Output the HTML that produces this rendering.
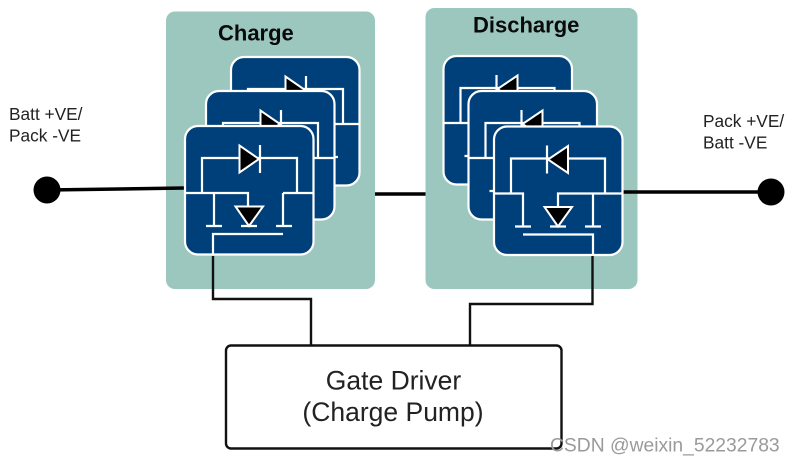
<!DOCTYPE html>
<html>
<head>
<meta charset="utf-8">
<style>
html,body{margin:0;padding:0;background:#fff;width:796px;height:464px;overflow:hidden}
svg{display:block}
text{font-family:"Liberation Sans",sans-serif}
</style>
</head>
<body>
<svg width="796" height="464" viewBox="0 0 796 464" xmlns="http://www.w3.org/2000/svg">
<defs>
<g id="c">
  <rect x="0" y="0" width="128.500" height="128.500" rx="13" fill="#00407a" stroke="#fff" stroke-width="2.200"/>
  <g fill="none" stroke="#fff" stroke-width="2.200">
    <path d="M17 67V32H112V67"/>
    <path d="M0 67H63V80M98 67H128.500M29 67V100M98 67V100"/>
    <path d="M21 100H37M56 100H72M91 100H107"/>
    <path d="M28 128.500V108H98"/>
    <path d="M75 19V47"/>
  </g>
  <path d="M54.500 19.500L54.500 46.500L74 33Z" fill="#000" stroke="#fff" stroke-width="2"/>
  <path d="M50.500 80.500H78L64 100Z" fill="#000" stroke="#fff" stroke-width="2"/>
</g>
<g id="d">
  <rect x="0" y="0" width="128.500" height="128.500" rx="13" fill="#00407a" stroke="#fff" stroke-width="2.200"/>
  <g fill="none" stroke="#fff" stroke-width="2.200">
    <path d="M17 67V32H111V67"/>
    <path d="M0 67H29V100M128.500 67H64V80M99 67V100"/>
    <path d="M21 100H37M56 100H72M91 100H107"/>
    <path d="M99 128.500V108H29"/>
    <path d="M53 19V47"/>
  </g>
  <path d="M74 19.500L74 46.500L54 33Z" fill="#000" stroke="#fff" stroke-width="2"/>
  <path d="M50.500 80.500H78L64 100Z" fill="#000" stroke="#fff" stroke-width="2"/>
</g>
</defs>

<rect x="166" y="11.500" width="209" height="277.500" rx="9" fill="#9cc7bf"/>
<rect x="425.500" y="8" width="212" height="281" rx="9" fill="#9cc7bf"/>

<path d="M47 190L185 188" stroke="#000" stroke-width="3.500" fill="none"/>
<path d="M375 194H425.500" stroke="#000" stroke-width="3.500" fill="none"/>
<path d="M622 192H771" stroke="#000" stroke-width="3.500" fill="none"/>
<circle cx="47" cy="190" r="13.500" fill="#000"/>
<circle cx="771" cy="192" r="13.500" fill="#000"/>

<use href="#c" x="231" y="57"/>
<use href="#c" x="206" y="91"/>
<use href="#c" x="185" y="126"/>
<use href="#d" x="443.500" y="56"/>
<use href="#d" x="468.500" y="91"/>
<use href="#d" x="494" y="126.500"/>

<path d="M213 256V299H311V345.500" fill="none" stroke="#111" stroke-width="2.400"/>
<path d="M592.500 256V304H470V345.500" fill="none" stroke="#111" stroke-width="2.400"/>
<rect x="226" y="345.500" width="335.500" height="103" rx="5" fill="#fff" stroke="#111" stroke-width="2.400"/>

<text x="218" y="40.700" font-size="22" font-weight="700" fill="#0a0a0a">Charge</text>
<text x="473" y="32.700" font-size="22" font-weight="700" fill="#0a0a0a">Discharge</text>
<text x="9" y="120" font-size="17.300" fill="#222">Batt +VE/</text>
<text x="9" y="141.700" font-size="17.300" fill="#222">Pack -VE</text>
<text x="703" y="127" font-size="17.300" fill="#222">Pack +VE/</text>
<text x="703" y="148.500" font-size="17.300" fill="#222">Batt -VE</text>
<text x="393.500" y="389.500" font-size="26.500" text-anchor="middle" fill="#222">Gate Driver</text>
<text x="393" y="421" font-size="26.500" text-anchor="middle" fill="#222">(Charge Pump)</text>
<text x="550" y="451.500" font-size="19.300" fill="#9a9a9a">CSDN @weixin_52232783</text>
</svg>
</body>
</html>
